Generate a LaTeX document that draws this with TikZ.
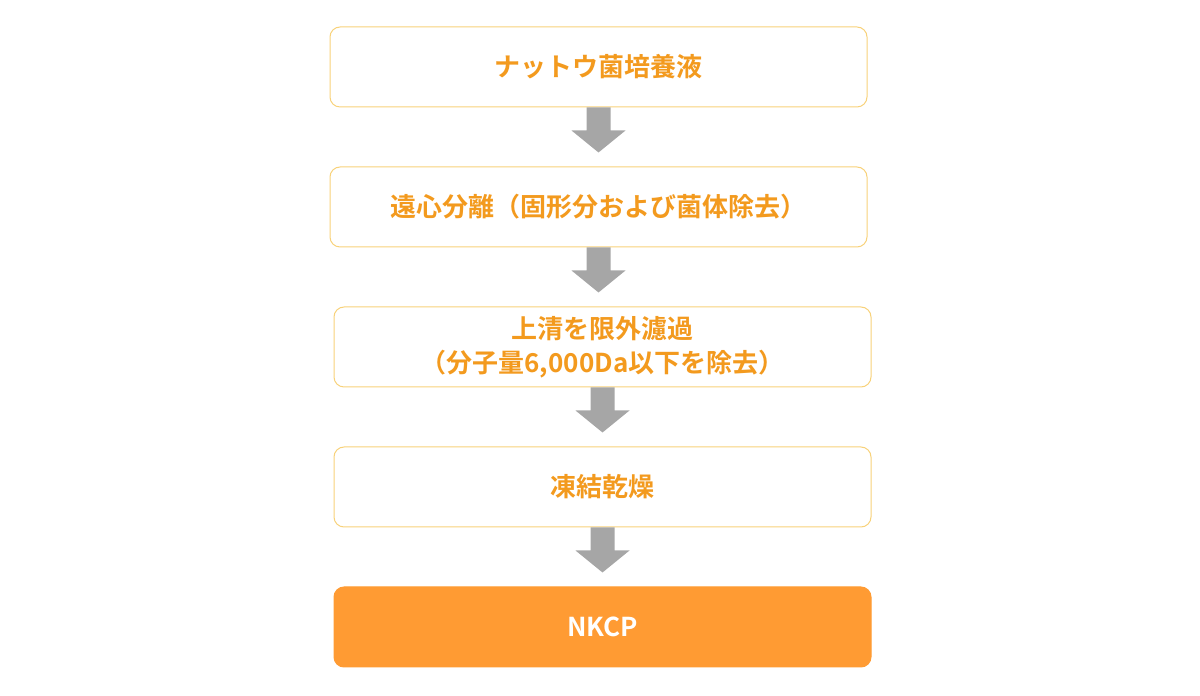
\documentclass[tikz,border=0pt]{standalone}
\usepackage{fontspec}
\newfontfamily\jp{Noto Sans CJK JP Bold}
\definecolor{txt}{HTML}{F39A1E}
\definecolor{bord}{HTML}{F8D27A}
\definecolor{fillo}{HTML}{FF9B33}
\definecolor{arr}{HTML}{A6A6A6}
\begin{document}
\begin{tikzpicture}[x=1pt,y=1pt,
  stepbox/.style={draw=bord,line width=1pt,rounded corners=10pt,fill=white,minimum width=537pt,minimum height=80pt,text=txt,font=\jp\fontsize{26}{34}\selectfont,align=center},
  finalbox/.style={stepbox,draw=fillo,fill=fillo,text=white},
  blockarrow/.style={fill=arr,draw=none}]
\useasboundingbox (0,0) rectangle (1200,696);
\node[stepbox] (b1) at (598.5,629) {ナットウ菌培養液};
\node[stepbox] (b2) at (598.5,489) {遠心分離（固形分および菌体除去）};
\node[stepbox] (b3) at (602.5,349) {上清を限外濾過\\（分子量6,000Da以下を除去）};
\node[stepbox] (b4) at (602.5,209) {凍結乾燥};
\node[finalbox] (b5) at (602.5,69) {NKCP};
\foreach \a in {b1,b2,b3,b4}{
  \fill[blockarrow] (\a.south) ++(-12,0) -- ++(0,-23) -- ++(-15,0) -- ++(27,-22) -- ++(27,22) -- ++(-15,0) -- ++(0,23) -- cycle;
}
\end{tikzpicture}
\end{document}
